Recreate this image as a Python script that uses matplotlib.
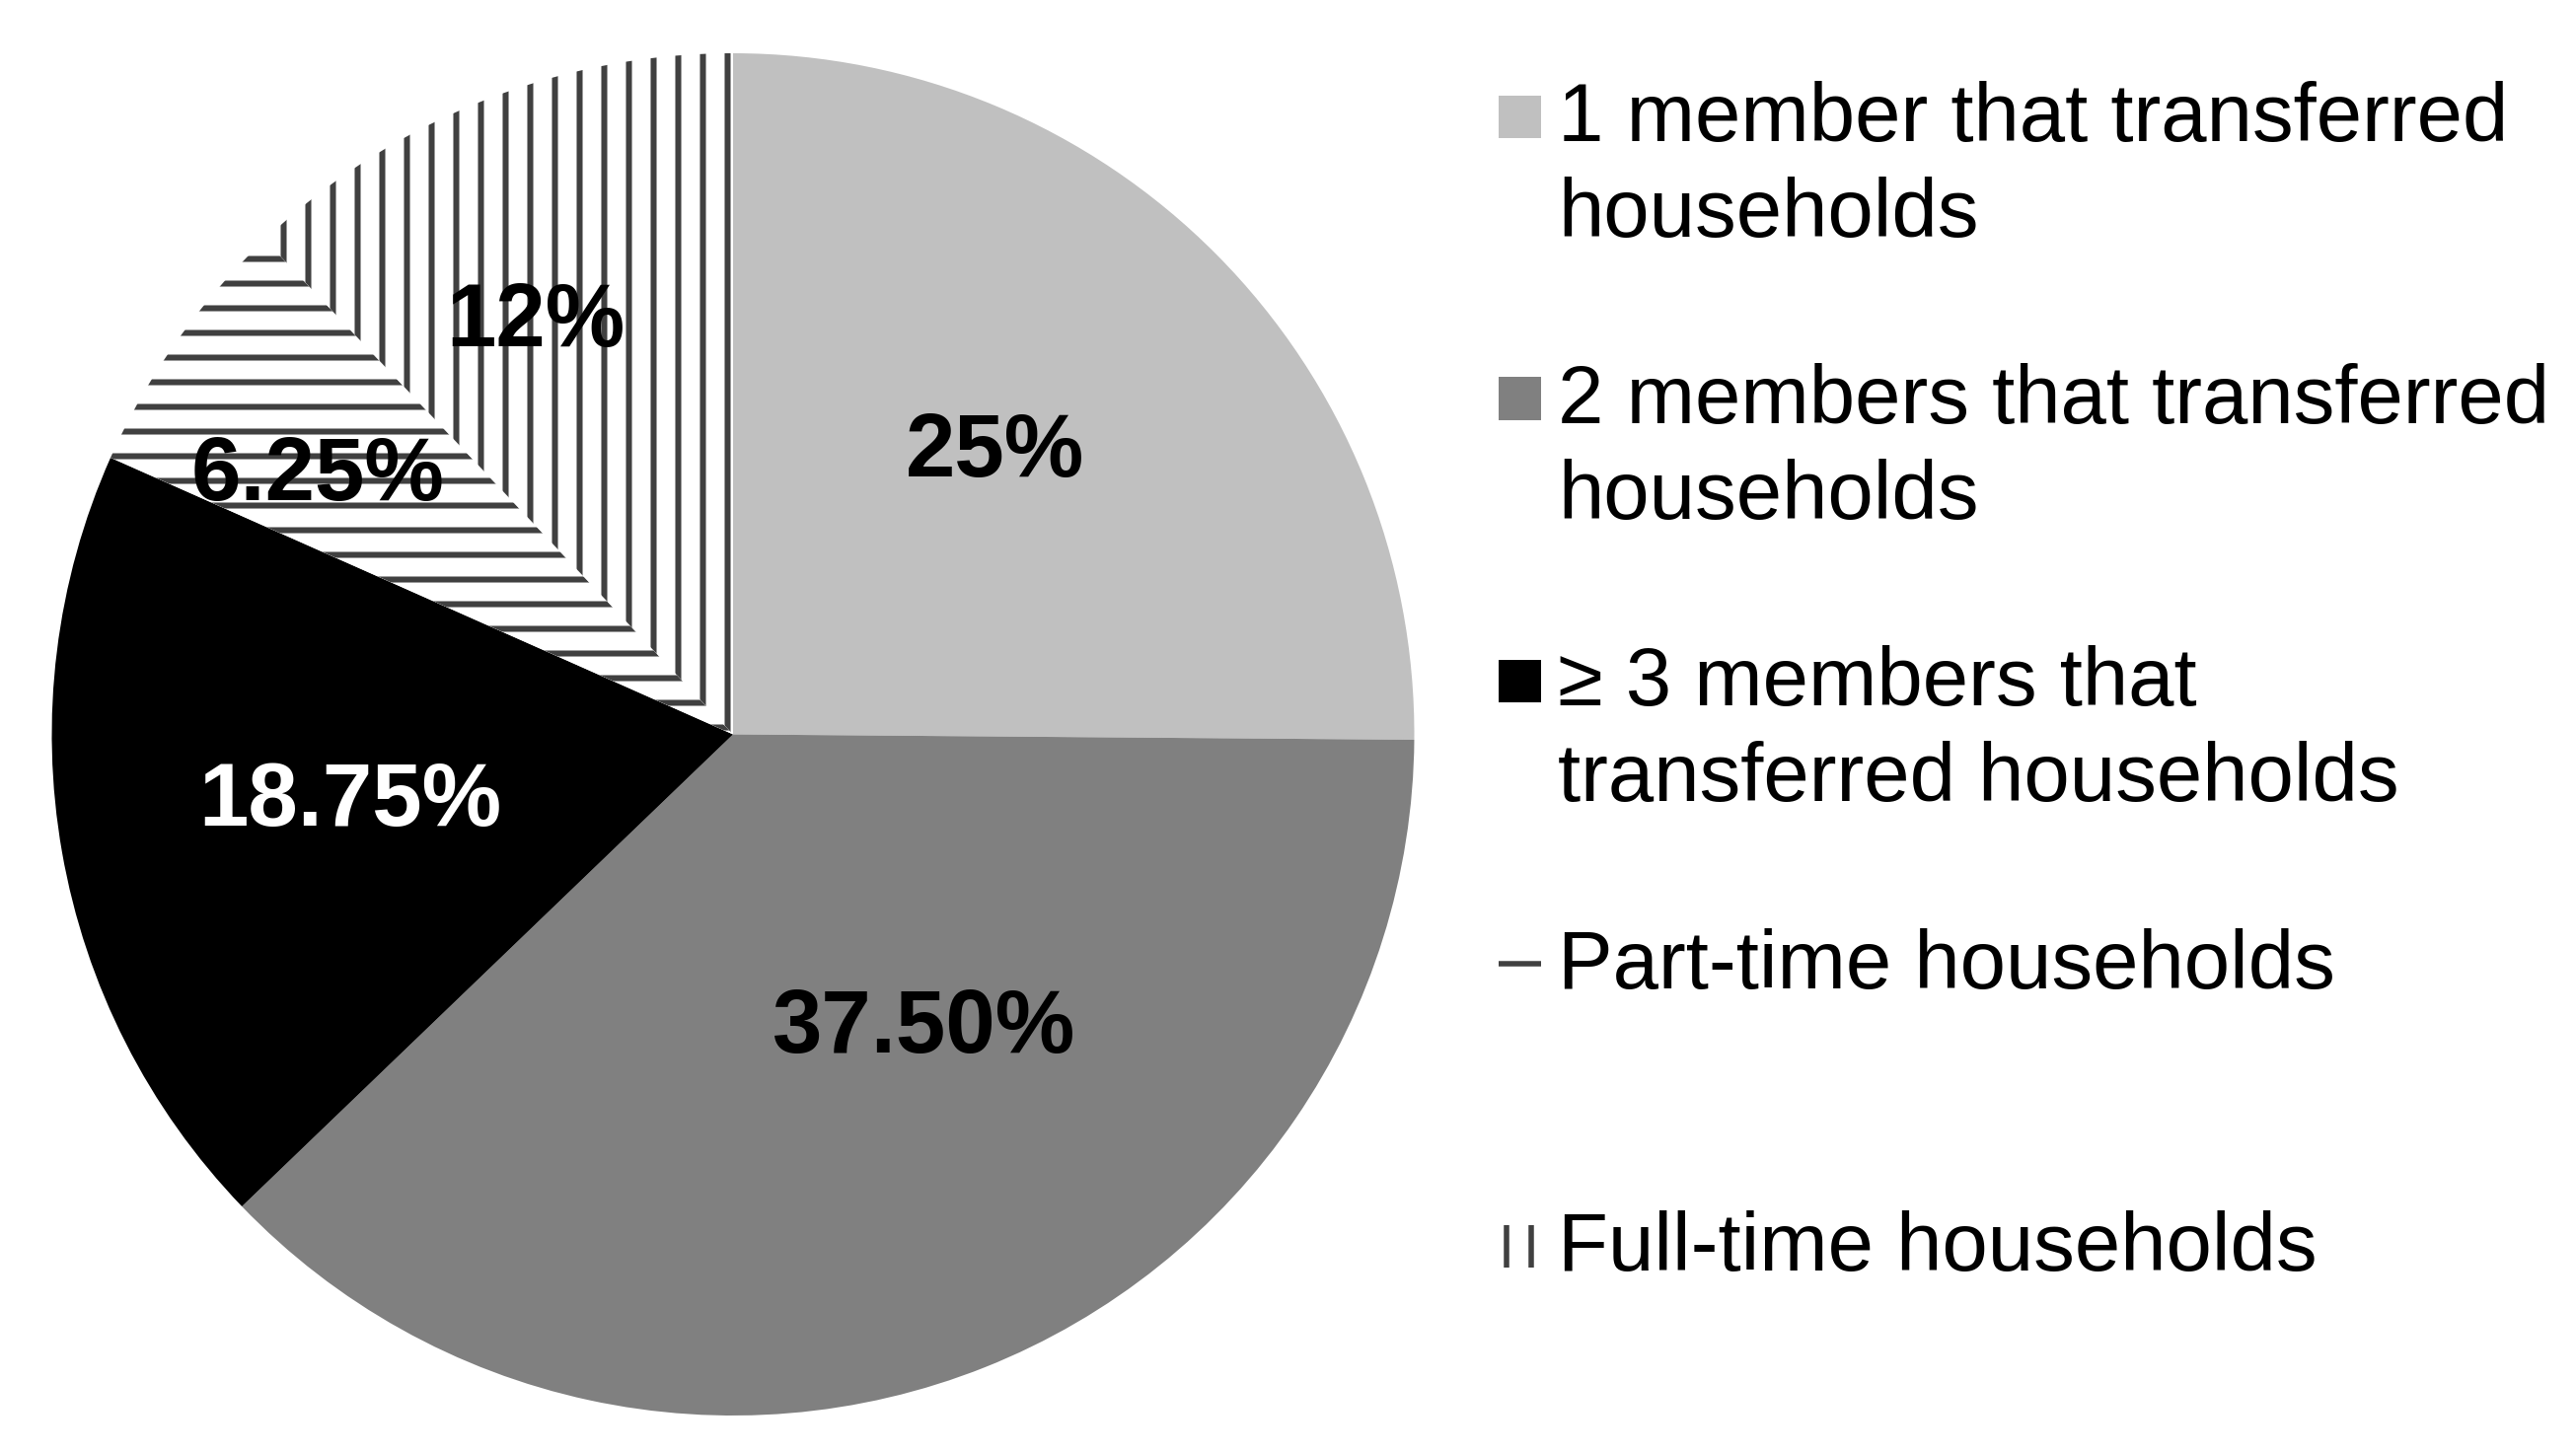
import matplotlib
matplotlib.use('Agg')
import matplotlib.pyplot as plt
from matplotlib.patches import Rectangle
from matplotlib.lines import Line2D

# data
categories = ['1 member that transferred\nhouseholds',
              '2 members that transferred\nhouseholds',
              '\u2265 3 members that\ntransferred households',
              'Part-time households',
              'Full-time households']
shares = [25, 37.5, 18.75, 6.25, 12]
pct_labels = ['25%', '37.50%', '18.75%', '6.25%', '12%']

# styles
colors = ['#c0c0c0', '#808080', '#000000', 'white', 'white']
hatches = [None, None, None, '-', '|']
label_colors = ['black', 'black', 'white', 'black', 'black']
# baseline-centre of each percentage label, in units of the pie radius
label_xy = [(0.385, 0.379), (0.281, -0.467), (-0.562, -0.134),
            (-0.610, 0.344), (-0.290, 0.570)]

DPI = 150
W, H = 2611, 1473
HATCH_COLOR = '#404040'

plt.rcParams['font.family'] = ['Liberation Sans', 'DejaVu Sans']
plt.rcParams['hatch.linewidth'] = 2.9
plt.rcParams['hatch.color'] = HATCH_COLOR

fig = plt.figure(figsize=(W / DPI, H / DPI), dpi=DPI)

# pie centre and radius in pixels
cx, cy, r = 743, 744.5, 690.5
ax = fig.add_axes([(cx - r) / W, (H - cy - r) / H, 2 * r / W, 2 * r / H])

wedges, _ = ax.pie(shares, colors=colors, startangle=90, counterclock=False,
                   wedgeprops=dict(linewidth=0))
for w, h in zip(wedges, hatches):
    if h:
        w.set_hatch(h)
        w.set_edgecolor(HATCH_COLOR)
ax.set_xlim(-1, 1)
ax.set_ylim(-1, 1)

for (x, y), s, c in zip(label_xy, pct_labels, label_colors):
    ax.text(x, y, s, ha='center', va='baseline', fontsize=43.5,
            fontweight='bold', color=c)

# legend drawn by hand so the key lines up with the first text line
def px(x, y):
    # pixel position (from top left) -> figure fraction
    return x / W, 1 - y / H

key_y = [118, 404, 690, 977, 1263]
key_x, key_size, text_x = 1519, 43, 1579
line_step = 97
key_lw = 5.5 * 72 / DPI
for i, label in enumerate(categories):
    y0 = key_y[i]
    if hatches[i] == '-':
        xs, ys = zip(px(key_x, y0), px(key_x + key_size, y0))
        fig.add_artist(Line2D(xs, ys, transform=fig.transFigure,
                              color=HATCH_COLOR, lw=key_lw,
                              solid_capstyle='butt'))
    elif hatches[i] == '|':
        for off in (8, 33):
            xs, ys = zip(px(key_x + off, y0 - key_size / 2),
                         px(key_x + off, y0 + key_size / 2))
            fig.add_artist(Line2D(xs, ys, transform=fig.transFigure,
                                  color=HATCH_COLOR, lw=key_lw,
                                  solid_capstyle='butt'))
    else:
        fig.add_artist(Rectangle(px(key_x, y0 + key_size / 2),
                                 key_size / W, key_size / H,
                                 transform=fig.transFigure,
                                 facecolor=colors[i], linewidth=0))
    for j, line in enumerate(label.split('\n')):
        fig.text(*px(text_x, y0 + 25 + j * line_step), line,
                 fontsize=40, ha='left', va='baseline')

fig.savefig('out.png', dpi=DPI, facecolor='white')
